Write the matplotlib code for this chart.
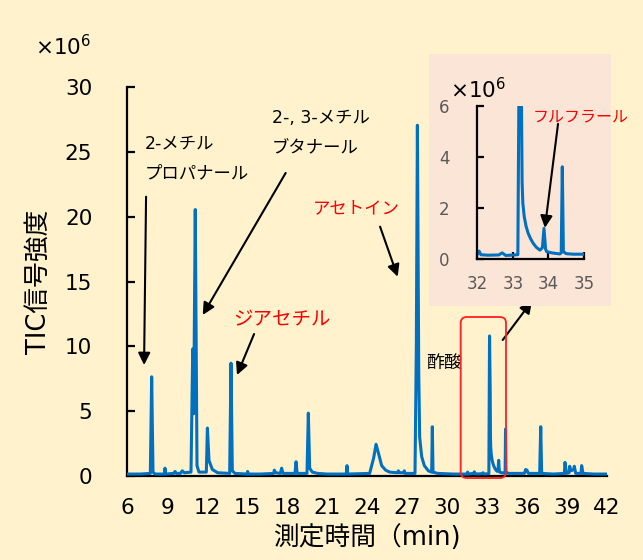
import matplotlib
matplotlib.use("Agg")
import matplotlib.pyplot as plt
from matplotlib.patches import Rectangle, FancyBboxPatch

plt.rcParams['font.family'] = ['DejaVu Sans', 'Noto Sans CJK JP']

# chromatogram trace (time [min], TIC intensity [x10^6])
time = [6.0, 7.0, 7.75, 7.85, 7.95, 8.1, 8.8, 8.85, 8.9, 9.5, 9.6, 9.7, 10.0, 10.15, 10.3,
        10.8, 10.93, 11.0, 11.12, 11.25, 11.4, 11.95, 12.03, 12.15, 12.4, 12.8,
        13.7, 13.8, 13.9, 14.1, 15.0, 15.05, 15.1, 16.0, 17.0, 17.05, 17.15, 17.5, 17.6, 17.7,
        18.6, 18.68, 18.76, 19.5, 19.6, 19.7, 19.9, 20.3, 21.0, 22.45, 22.5, 22.55,
        24.2, 24.5, 24.68, 24.85, 25.1, 25.4, 25.7, 26.3, 26.35, 26.45, 26.75, 26.8, 26.85,
        27.6, 27.7, 27.78, 27.88, 27.95, 28.1, 28.3, 28.6, 28.85, 28.9, 28.95, 29.3,
        30.5, 31.5, 31.55, 31.6, 32.0, 32.05, 32.1, 32.3, 32.6, 32.7, 32.8, 33.14,
        33.19, 33.24, 33.26, 33.28, 33.32, 33.37, 33.43, 33.5, 33.57, 33.66, 33.76, 33.83,
        33.875, 33.92, 33.95, 34.1, 34.32, 34.36, 34.39, 34.42, 34.5,
        34.7, 35.0, 35.8, 35.9, 36.0, 36.1, 36.95, 37.03, 37.1, 38.0, 38.8, 38.85, 38.95,
        39.15, 39.2, 39.3, 39.5, 39.55, 39.65, 40.05, 40.1, 40.2, 41.0, 42.0]
signal = [0.15, 0.15, 0.2, 7.65, 0.3, 0.15, 0.15, 0.6, 0.15, 0.2, 0.35, 0.2, 0.2, 0.4, 0.25,
          0.3, 9.8, 4.8, 20.55, 0.8, 0.3, 0.3, 3.7, 1.2, 0.5, 0.25,
          0.2, 8.7, 0.4, 0.2, 0.15, 0.35, 0.15, 0.15, 0.2, 0.45, 0.25, 0.2, 0.6, 0.2,
          0.2, 1.1, 0.2, 0.2, 4.85, 0.6, 0.3, 0.2, 0.15, 0.15, 0.8, 0.15,
          0.2, 1.4, 2.45, 1.8, 0.8, 0.45, 0.3, 0.25, 0.4, 0.25, 0.25, 0.4, 0.2,
          0.2, 10.0, 27.05, 8.0, 3.0, 1.5, 0.8, 0.4, 0.3, 3.8, 0.3, 0.2,
          0.15, 0.15, 0.3, 0.15, 0.2, 0.32, 0.18, 0.16, 0.17, 0.25, 0.15, 0.18,
          10.8, 6.5, 3.0, 2.2, 1.67, 1.3, 1.02, 0.8, 0.63, 0.47, 0.36, 0.45,
          1.21, 0.4, 0.3, 0.25, 0.21, 0.25, 3.62, 0.3, 0.22,
          0.2, 0.2, 0.2, 0.5, 0.45, 0.2, 0.2, 3.8, 0.2, 0.15, 0.2, 1.05, 0.2,
          0.25, 0.75, 0.4, 0.5, 0.75, 0.2, 0.2, 0.8, 0.2, 0.15, 0.15]

x_ticks = [6, 9, 12, 15, 18, 21, 24, 27, 30, 33, 36, 39, 42]
y_ticks = [0, 5, 10, 15, 20, 25, 30]
inset_x_ticks = [32, 33, 34, 35]
inset_y_ticks = [0, 2, 4, 6]

BG = '#FFF2CC'
PINK = '#FBE5D6'
BLUE = '#0070C0'
W, H = 643, 560

fig = plt.figure(figsize=(W / 100, H / 100), dpi=100, facecolor=BG)

def fx(px):
    return px / W

def fy(py):
    return 1 - py / H

# ---- main axes ----
ax = fig.add_axes([fx(127), fy(476), fx(607) - fx(127), fy(87) - fy(476)])
ax.set_facecolor('none')
ax.plot(time, signal, color=BLUE, lw=2.2, solid_joinstyle='round', zorder=3)
ax.set_xlim(6, 42)
ax.set_ylim(0, 30)
ax.set_xticks(x_ticks)
ax.set_yticks(y_ticks)
for s in ['top', 'right']:
    ax.spines[s].set_visible(False)
for s in ['left', 'bottom']:
    ax.spines[s].set_linewidth(1.6)
ax.tick_params(axis='y', direction='in', length=6, width=1.6, pad=25, labelsize=15.5)
ax.tick_params(axis='x', length=0, pad=16, labelsize=15.5)

fig.text(fx(63), fy(47), r'×10$^{6}$', fontsize=15.5, ha='center', va='center')
fig.text(fx(39), fy(282), 'TIC信号強度', rotation=90, fontsize=18.5, ha='center', va='center')
fig.text(fx(367), fy(538), '測定時間（min)', fontsize=18.5, ha='center', va='center')

arrow = dict(arrowstyle='-|>', color='black', lw=1.5, mutation_scale=18, shrinkA=0, shrinkB=0)

ax.text(7.35, 25.68, '2-メチル', fontsize=12.5, ha='left', va='center')
ax.text(7.35, 23.37, 'プロパナール', fontsize=12.5, ha='left', va='center')
ax.annotate('', xy=(7.28, 8.56), xytext=(7.43, 21.54), arrowprops=arrow)

ax.text(16.85, 27.6, '2-, 3-メチル', fontsize=12.5, ha='left', va='center')
ax.text(16.85, 25.3, 'ブタナール', fontsize=12.5, ha='left', va='center')
ax.annotate('', xy=(11.68, 12.42), xytext=(17.9, 23.37), arrowprops=arrow)

ax.text(13.95, 12.03, 'ジアセチル', fontsize=14, color='#FF0000', ha='left', va='center')
ax.annotate('', xy=(14.25, 7.79), xytext=(15.53, 10.95), arrowprops=arrow)

ax.text(19.95, 20.67, 'アセトイン', fontsize=12.5, color='#FF0000', ha='left', va='center')
ax.annotate('', xy=(26.3, 15.37), xytext=(24.98, 19.23), arrowprops=arrow)

ax.text(28.4, 8.71, '酢酸', fontsize=13, ha='left', va='center')

# red rounded box around 33 min region (in inches)
box = FancyBboxPatch((4.607 + 0.06, (H - 478) / 100 + 0.06), 0.453 - 0.12, 1.61 - 0.12,
                     boxstyle='round,pad=0.06', transform=fig.dpi_scale_trans,
                     fill=False, edgecolor='#FF2020', lw=1.3, zorder=5)
fig.add_artist(box)

ax.annotate('', xy=(532, H - 301), xycoords='figure pixels',
            xytext=(502.7, H - 340), textcoords='figure pixels', arrowprops=arrow)

# ---- inset ----
fig.add_artist(Rectangle((fx(429), fy(306)), fx(611) - fx(429), fy(54) - fy(306),
                         transform=fig.transFigure, facecolor=PINK, edgecolor='none', zorder=1))
ins = fig.add_axes([fx(477.3), fy(259.3), fx(584) - fx(477.3), fy(106) - fy(259.3)])
ins.set_zorder(6)
ins.set_facecolor('none')
ins.plot(time, signal, color=BLUE, lw=2.2, solid_joinstyle='round')
ins.set_xlim(32, 35)
ins.set_ylim(0, 6)
ins.set_xticks(inset_x_ticks)
ins.set_yticks(inset_y_ticks)
for s in ['top', 'right']:
    ins.spines[s].set_visible(False)
for s in ['left', 'bottom']:
    ins.spines[s].set_linewidth(1.6)
ins.tick_params(axis='y', direction='in', length=5, width=1.6, pad=20, labelsize=12,
                labelcolor='#595959')
ins.tick_params(axis='x', direction='in', length=5, width=1.6, pad=11, labelsize=12,
                labelcolor='#595959')
fig.text(fx(478), fy(90), r'×10$^{6}$', fontsize=15.5, ha='center', va='center', zorder=7)
ins.text(33.57, 5.57, 'フルフラール', fontsize=11.5, color='#FF0000', ha='left', va='center')
ins.annotate('', xy=(33.9, 1.23), xytext=(34.27, 5.3), arrowprops=arrow)

fig.savefig('out.png', dpi=100, facecolor=BG)
